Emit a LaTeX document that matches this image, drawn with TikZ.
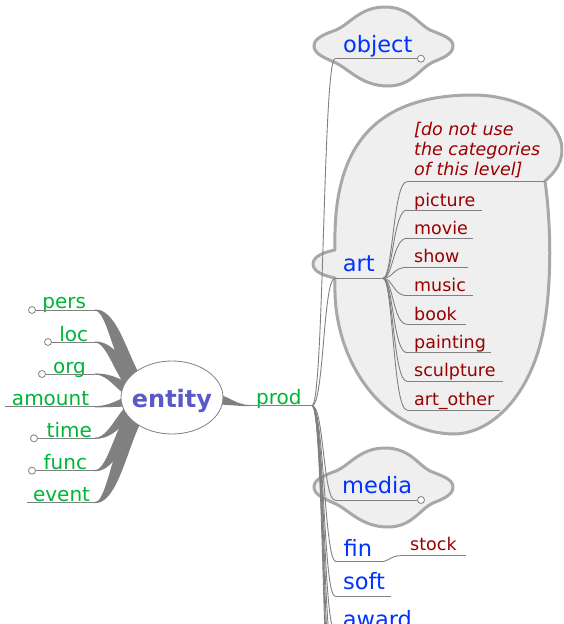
\documentclass[tikz,border=0pt]{standalone}
\usepackage{fontspec}
\setmainfont{DejaVu Sans}
\usetikzlibrary{shapes.geometric}
\definecolor{grn}{HTML}{00B439}
\definecolor{blu}{HTML}{0033FF}
\definecolor{dred}{HTML}{990000}
\definecolor{ent}{HTML}{5959C8}
\definecolor{edgecol}{HTML}{808080}
\definecolor{cloudfill}{HTML}{EFEFEF}
\definecolor{cloudline}{HTML}{A8A8A8}
\tikzset{
  gtext/.style={inner sep=0pt, anchor=base west, text=grn, font=\fontsize{20}{24}\selectfont},
  btext/.style={inner sep=0pt, anchor=base west, text=blu, font=\fontsize{22.5}{27}\selectfont},
  rtext/.style={inner sep=0pt, anchor=base west, text=dred, font=\fontsize{17.5}{20}\selectfont},
  itext/.style={inner sep=0pt, anchor=base west, text=dred, font=\fontsize{17.5}{20}\selectfont\itshape},
  uline/.style={draw=edgecol, line width=1pt},
  edgeline/.style={draw=edgecol, line width=0.9pt},
  knob/.style={circle, draw=edgecol, fill=white, inner sep=0pt, minimum size=7pt, line width=0.8pt},
  cloudshape/.style={fill=cloudfill, draw=cloudline, line width=3pt, line join=round},
}
\newcommand\leftedge[3]{% child x, child y, horizontal offset
  \fill[edgecol] (#1,{#2-0.6}) .. controls ({118+(#3)},{#2-0.6}) and ({125+(#3)},390) .. (158,390)
    -- (158,406) .. controls ({125-(#3)},406) and ({118-(#3)},{#2+0.6}) .. (#1,{#2+0.6}) -- cycle;}
\newcommand\objcloud{%
  (314,46) .. controls (314,38) and (325,34) .. (336,30)
  .. controls (350,24) and (360,7) .. (385,7)
  .. controls (410,7) and (418,24) .. (430,30)
  .. controls (442,35) and (453,38) .. (453,46)
  .. controls (453,54) and (443,58) .. (433,62)
  .. controls (420,68) and (412,86) .. (388,86)
  .. controls (362,86) and (350,70) .. (336,63)
  .. controls (325,58) and (314,54) .. (314,46) -- cycle}
\begin{document}
\begin{tikzpicture}[x=1pt,y=-1pt]
\useasboundingbox (0,0) rectangle (563,624);
\clip (0,0) rectangle (563,624);

% clouds
\path[cloudshape] \objcloud;
\path[cloudshape, yshift=-441pt] \objcloud;
\path[cloudshape] (313,264) .. controls (313,256) and (325,252) .. (335,250)
  .. controls (333,170) and (355,95) .. (473,95)
  .. controls (520,95) and (562,120) .. (562,150)
  .. controls (562,165) and (552,175) .. (545,181)
  .. controls (552,230) and (552,300) .. (540,345)
  .. controls (525,400) and (490,433) .. (455,434)
  .. controls (400,434) and (355,390) .. (340,330)
  .. controls (334,305) and (335,290) .. (335,278)
  .. controls (325,276) and (313,272) .. (313,264) -- cycle;

% tapered edges to the left children
\leftedge{95}{310}{7}
\leftedge{95}{342}{6}
\leftedge{95}{374}{4}
\leftedge{95}{406.7}{0}
\leftedge{95}{438.3}{-4}
\leftedge{95}{470.7}{-6}
\leftedge{95}{502.7}{-7}
% tapered edge entity -> prod
\fill[edgecol] (195,391) .. controls (228,391) and (232,405) .. (250,405)
  -- (250,406.2) .. controls (235,406.2) and (228,404) .. (195,404) -- cycle;

% entity
\node[ellipse, draw=edgecol, fill=white, line width=0.8pt, minimum width=102pt, minimum height=73pt, inner sep=0pt] (entity) at (172,397.5) {};
\node[inner sep=0pt, anchor=base, text=ent, font=\fontsize{24}{28}\selectfont\bfseries] (entitytext) at (172,407.3) {entity};

% left children
\node[gtext] (pers) at (42.2,308.5) {pers};
\node[knob] (persK) at (32,310) {};
\coordinate (persR) at (95,310);
\draw[uline] (persK) -- (persR);

\node[gtext] (loc) at (59.1,341) {loc};
\node[knob] (locK) at (48,342) {};
\coordinate (locR) at (95,342);
\draw[uline] (locK) -- (locR);

\node[gtext] (org) at (52.9,373) {org};
\node[knob] (orgK) at (42,374) {};
\coordinate (orgR) at (95,374);
\draw[uline] (orgK) -- (orgR);

\node[gtext] (amount) at (11.8,405.5) {amount};
\coordinate (amountL) at (5,406.7);
\coordinate (amountR) at (95,406.7);
\draw[uline] (amountL) -- (amountR);

\node[gtext] (time) at (46.5,437) {time};
\node[knob] (timeK) at (34,438.3) {};
\coordinate (timeR) at (95,438.3);
\draw[uline] (timeK) -- (timeR);

\node[gtext] (func) at (43.5,469) {func};
\node[knob] (funcK) at (32,470.7) {};
\coordinate (funcR) at (95,470.7);
\draw[uline] (funcK) -- (funcR);

\node[gtext] (event) at (32.9,501.5) {event};
\coordinate (eventL) at (27,502.7);
\coordinate (eventR) at (95,502.7);
\draw[uline] (eventL) -- (eventR);

% prod
\node[gtext] (prod) at (256,404.5) {prod};
\coordinate (prodL) at (249,405.6);
\coordinate (prodR) at (312,405.6);
\draw[uline] (prodL) -- (prodR);

% prod children anchors
\coordinate (objL) at (335,58.7);
\coordinate (artL) at (335,278.3);
\coordinate (mediaL) at (335,500);
\coordinate (finL) at (336,561.7);
\coordinate (softL) at (335,596);
\coordinate (awardL) at (335,631);
\coordinate (moreA) at (335,665);
\coordinate (moreB) at (335,700);
\coordinate (moreC) at (335,735);
\coordinate (moreD) at (335,770);

\foreach \c in {objL,artL,mediaL,finL,softL,awardL,moreA,moreB,moreC,moreD}
  \draw[edgeline] (prodR) .. controls +(12,0) and +(-12,0) .. (\c);

% object
\node[btext] (object) at (342.8,52) {object};
\node[knob] (objK) at (421,58.7) {};
\draw[uline] (objL) -- (objK);

% art
\node[btext] (art) at (342.6,271.7) {art};
\coordinate (artR) at (383,278.3);
\draw[uline] (artL) -- (artR);

% art children
\node[itext] (note1) at (414,135) {[do not use};
\node[itext] (note2) at (414,155) {the categories};
\node[itext] (note3) at (414,175) {of this level]};
\coordinate (noteL) at (407,181.7); \coordinate (noteR) at (545,181.7);
\node[rtext] (picture) at (414,206) {picture};
\coordinate (pictureL) at (407,210); \coordinate (pictureR) at (482,210);
\node[rtext] (movie) at (414,234) {movie};
\coordinate (movieL) at (407,238.3); \coordinate (movieR) at (473,238.3);
\node[rtext] (show) at (414,262.7) {show};
\coordinate (showL) at (407,267.3); \coordinate (showR) at (468,267.3);
\node[rtext] (music) at (414,291.7) {music};
\coordinate (musicL) at (407,295.7); \coordinate (musicR) at (473,295.7);
\node[rtext] (book) at (414,320) {book};
\coordinate (bookL) at (407,324.3); \coordinate (bookR) at (466,324.3);
\node[rtext] (painting) at (414,348.3) {painting};
\coordinate (paintingL) at (407,352.7); \coordinate (paintingR) at (491,352.7);
\node[rtext] (sculpture) at (414,376.7) {sculpture};
\coordinate (sculptureL) at (407,381.3); \coordinate (sculptureR) at (503,381.3);
\node[rtext] (artother) at (414,405) {art\_other};
\coordinate (artotherL) at (407,410); \coordinate (artotherR) at (500,410);

\foreach \c in {note,picture,movie,show,music,book,painting,sculpture,artother}{
  \draw[uline] (\c L) -- (\c R);
  \draw[edgeline] (artR) .. controls +(10,0) and +(-14,0) .. (\c L);
}

% media
\node[btext] (media) at (342,493.3) {media};
\node[knob] (mediaK) at (421,500) {};
\draw[uline] (mediaL) -- (mediaK);

% fin and stock
\node[btext] (fin) at (343.5,556) {fin};
\coordinate (finR) at (380,561.7);
\draw[uline] (finL) -- (finR);
\node[rtext] (stock) at (410,550.7) {stock};
\coordinate (stockL) at (400,555.7);
\coordinate (stockR) at (466,555.7);
\draw[edgeline] (finR) .. controls +(10,0) and +(-10,0) .. (stockL);
\draw[uline] (stockL) -- (stockR);

% soft
\node[btext] (soft) at (343,589.3) {soft};
\coordinate (softR) at (391,596);
\draw[uline] (softL) -- (softR);

% award
\node[btext] (award) at (342.6,627) {award};
\coordinate (awardR) at (420,631);
\draw[uline] (awardL) -- (awardR);
\end{tikzpicture}
\end{document}
